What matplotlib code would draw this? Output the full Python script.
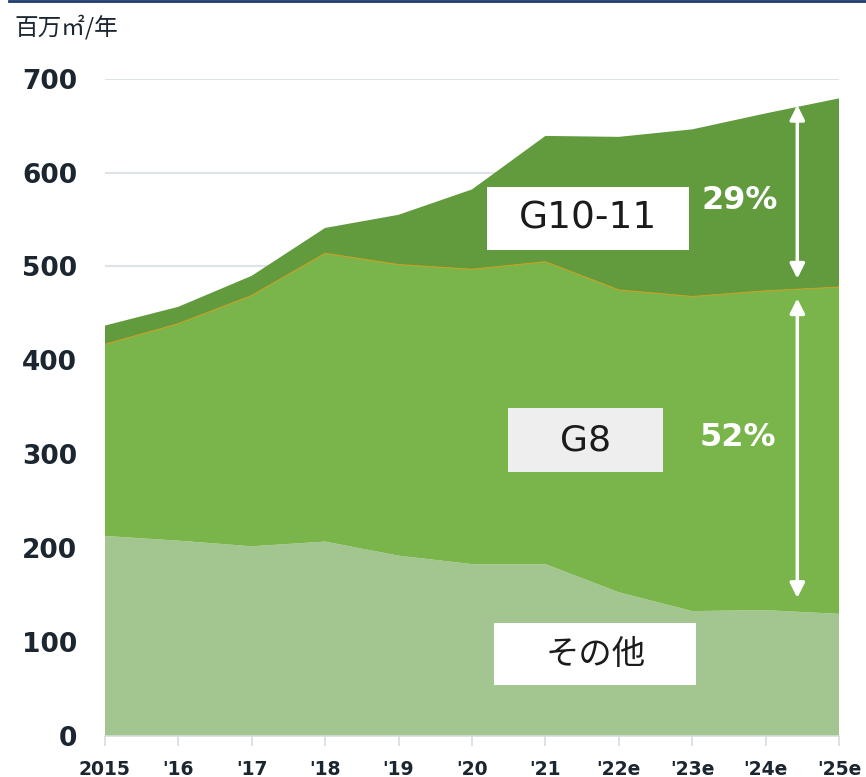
import matplotlib
matplotlib.use("Agg")
import matplotlib.pyplot as plt
from matplotlib.lines import Line2D
from matplotlib.patches import Rectangle
import numpy as np

plt.rcParams['font.family'] = ['Noto Sans CJK JP', 'DejaVu Sans']

years = ["2015", "'16", "'17", "'18", "'19", "'20", "'21", "'22e", "'23e", "'24e", "'25e"]
other = [213, 208, 202, 207, 192, 183, 183, 153, 133, 134, 130]
g8 = [204, 231, 267, 307, 310, 314, 322, 322, 335, 340, 348]
g1011 = [20, 18, 21, 27, 53, 85, 134, 163, 178, 189, 201]
series_names = ["その他", "G8", "G10-11"]
share_labels = ["29%", "52%"]
yticks = [0, 100, 200, 300, 400, 500, 600, 700]

fig = plt.figure(figsize=(8.66, 7.77), dpi=100)
ax = fig.add_axes([0.121, 0.0528, 0.848, 0.846])

x = np.arange(len(years))
c_other = "#a3c590"
c_g8 = "#79b54b"
c_g10 = "#629a3e"

ax.stackplot(x, other, g8, g1011, colors=[c_other, c_g8, c_g10], linewidth=0)
top_g8 = np.array(other) + np.array(g8)
ax.plot(x, top_g8, color="#c8a020", lw=0.8, zorder=3)

ax.set_xlim(0, len(years) - 1)
ax.set_ylim(0, 700)
ax.set_yticks(yticks)
ax.set_yticklabels([str(v) for v in yticks], fontsize=19, fontweight='bold', color="#1b2630", family='DejaVu Sans')
ax.set_xticks(x)
ax.set_xticklabels(years, fontsize=13.5, fontweight='bold', color="#1b2630", family='DejaVu Sans')
ax.tick_params(axis='y', length=0, pad=20)
ax.tick_params(axis='x', length=7, color="#d5dde2", width=1.2, pad=10, direction='out')

ax.grid(axis='y', color="#dde4e8", lw=1.5, zorder=0)
ax.set_axisbelow(True)
for s in ['top', 'right', 'left']:
    ax.spines[s].set_visible(False)
ax.spines['bottom'].set_color("#d5dde2")
ax.spines['bottom'].set_linewidth(1.2)

# Series label boxes (center x, center y, width, height in data units)
def label_box(cx, cy, w, h, text, fc, fs, fam=None):
    ax.add_patch(Rectangle((cx - w / 2, cy - h / 2), w, h, fc=fc, ec='none', zorder=4))
    kw = dict(fontsize=fs, ha='center', va='center', color="#1b1b1b", zorder=5)
    if fam:
        kw['family'] = fam
    ax.text(cx, cy, text, **kw)

label_box(6.58, 551, 2.75, 67, series_names[2], 'white', 27, 'DejaVu Sans')
label_box(6.55, 315, 2.11, 68, series_names[1], '#eeeeee', 26, 'DejaVu Sans')
label_box(6.68, 87, 2.75, 66, series_names[0], 'white', 24)

# Share annotations
xa = 9.43
ax.annotate("", xy=(xa, 675), xytext=(xa, 484),
            arrowprops=dict(arrowstyle='<|-|>', color='white', lw=2.5, mutation_scale=22))
ax.annotate("", xy=(xa, 469), xytext=(xa, 144),
            arrowprops=dict(arrowstyle='<|-|>', color='white', lw=2.5, mutation_scale=22))
ax.text(8.65, 570, share_labels[0], fontsize=23, fontweight='bold', color='white',
        ha='center', va='center', family='DejaVu Sans')
ax.text(8.62, 318, share_labels[1], fontsize=23, fontweight='bold', color='white',
        ha='center', va='center', family='DejaVu Sans')

fig.text(0.017, 0.965, "百万㎡/年", fontsize=17, color="#1b2630", ha='left', va='center')
fig.add_artist(Line2D([0.01, 1.0], [0.999, 0.999], color="#1f3a6e", lw=2, transform=fig.transFigure))

fig.savefig("out.png", dpi=100)
